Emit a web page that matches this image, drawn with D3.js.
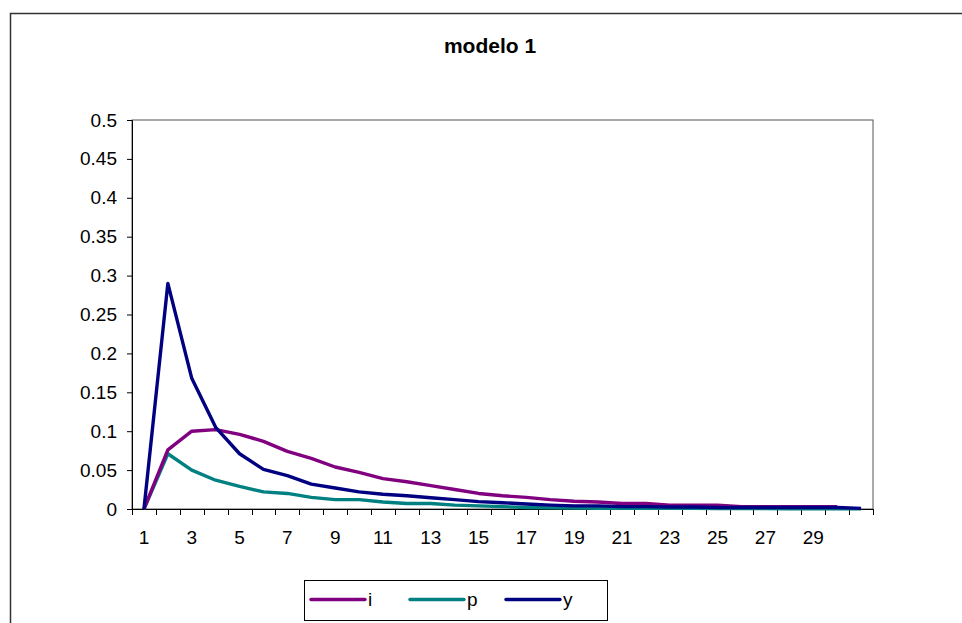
<!DOCTYPE html>
<html><head><meta charset="utf-8">
<script src="https://cdn.jsdelivr.net/npm/d3@7"></script>
<style>body{margin:0;background:#fff}svg{display:block}</style>
</head><body>
<svg id="c" width="962" height="623"></svg>
<script>
const title = "modelo 1";
const categories = d3.range(1, 32);
const tickLabels = [1,3,5,7,9,11,13,15,17,19,21,23,25,27,29];
const yTicks = [0,0.05,0.1,0.15,0.2,0.25,0.3,0.35,0.4,0.45,0.5];
const seriesNames = ["i","p","y"];
const seriesColors = ["#800080","#008080","#000080"];
const iValues = [0,0.076,0.100,0.102,0.096,0.087,0.074,0.065,0.054,0.047,0.039,0.035,0.030,0.025,0.020,0.017,0.015,0.012,0.010,0.009,0.007,0.007,0.005,0.005,0.005,0.003,0.003,0.003,0.003,0.003];
const pValues = [0,0.071,0.050,0.037,0.029,0.022,0.020,0.015,0.012,0.012,0.009,0.007,0.007,0.005,0.004,0.003,0.002,0.0015,0.0012,0.001,0.001,0.001,0.0008,0.0008,0.0006,0.0005,0.0005,0.0004,0.0004,0.0003,0.0003];
const yValues = [0,0.290,0.168,0.105,0.071,0.051,0.043,0.032,0.027,0.022,0.019,0.017,0.0145,0.012,0.0095,0.008,0.0065,0.005,0.004,0.004,0.003,0.003,0.0025,0.0025,0.002,0.002,0.002,0.002,0.002,0.002,0.0008];
const allSeries = [iValues, pValues, yValues];

const svg = d3.select("#c");
const font = "'Liberation Sans', Arial, sans-serif";

// chart area frame
svg.append("rect").attr("x",10.5).attr("y",13.5).attr("width",970).attr("height",640)
  .attr("fill","#fff").attr("stroke","#333").attr("stroke-width",1.5);

svg.append("text").attr("x",490).attr("y",53).attr("text-anchor","middle")
  .attr("font-family",font).attr("font-weight","bold").attr("font-size",21).text(title);

const L=132, R=873, T=120, B=509;
const x = d3.scaleBand().domain(categories).range([L,R]).paddingInner(0).paddingOuter(0);
const y = d3.scaleLinear().domain([0,0.5]).range([B,T]);

// plot area border
svg.append("rect").attr("x",L).attr("y",T).attr("width",R-L).attr("height",B-T)
  .attr("fill","none").attr("stroke","#555").attr("stroke-width",1);

// y axis
const yAxis = d3.axisLeft(y).tickValues(yTicks).tickSize(5).tickPadding(10).tickFormat(d=>String(d));
const gy = svg.append("g").attr("transform",`translate(${L},0)`).call(yAxis);
gy.select(".domain").attr("stroke","#000");
gy.selectAll("line").attr("stroke","#000");
gy.selectAll("text").attr("font-family",font).attr("font-size",19).attr("fill","#000");

// x axis: ticks at band boundaries, labels at centers
const gx = svg.append("g");
gx.append("line").attr("x1",L).attr("x2",R).attr("y1",B+0.5).attr("y2",B+0.5).attr("stroke","#000");
const bounds = categories.map(c=>x(c)).concat([R]);
gx.selectAll("line.t").data(bounds).enter().append("line").attr("class","t")
  .attr("x1",d=>Math.round(d)+0.5).attr("x2",d=>Math.round(d)+0.5).attr("y1",B).attr("y2",B+6).attr("stroke","#000");
gx.selectAll("text").data(tickLabels).enter().append("text")
  .attr("x",d=>x(d)+x.bandwidth()/2).attr("y",B+35).attr("text-anchor","middle")
  .attr("font-family",font).attr("font-size",19).text(d=>d);

// lines
const line = d3.line().x((d,i)=>x(categories[i])+x.bandwidth()/2).y(d=>y(d));
[1,0,2].forEach(si=>{
  svg.append("path").datum(allSeries[si]).attr("d",line).attr("fill","none")
    .attr("stroke",seriesColors[si]).attr("stroke-width",3.4).attr("stroke-linejoin","round");
});

// legend
const lg = svg.append("g");
lg.append("rect").attr("x",304.5).attr("y",580.5).attr("width",303).attr("height",40)
  .attr("fill","#fff").attr("stroke","#000").attr("stroke-width",1);
const lx = [311,410,506];
seriesNames.forEach((n,i)=>{
  lg.append("line").attr("x1",lx[i]).attr("x2",lx[i]+54).attr("y1",599.5).attr("y2",599.5)
    .attr("stroke",seriesColors[i]).attr("stroke-width",3.4).attr("stroke-linecap","round");
  lg.append("text").attr("x",lx[i]+57).attr("y",606).attr("font-family",font).attr("font-size",19).text(n);
});
</script>
</body></html>
